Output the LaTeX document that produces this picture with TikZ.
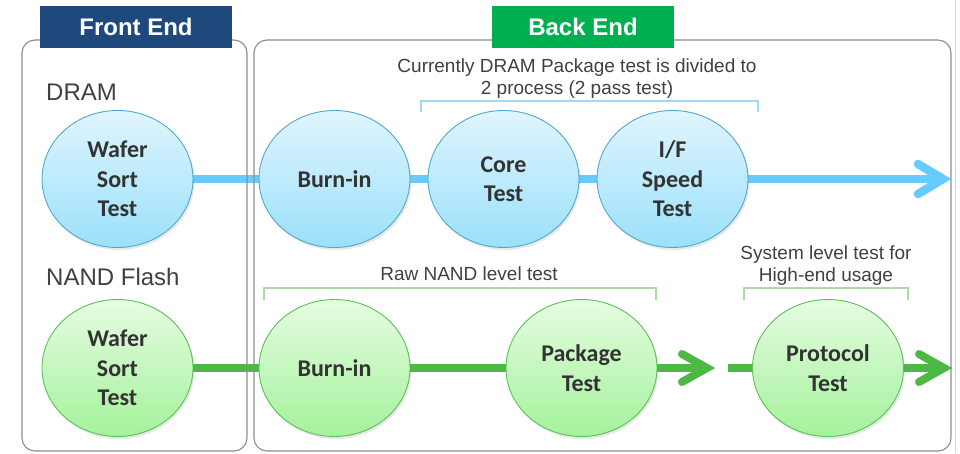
\documentclass[tikz,border=0pt]{standalone}
\usepackage{fontspec}
\setmainfont{Liberation Sans}
\newfontfamily\bubblefont{Carlito}
\usetikzlibrary{shapes.geometric,shadows,backgrounds}
\definecolor{feblue}{HTML}{1F497D}
\definecolor{begreen}{HTML}{00B050}
\definecolor{txtgray}{HTML}{404040}
\definecolor{bubtxt}{HTML}{333333}
\definecolor{panelgray}{HTML}{8C8C8C}
\definecolor{lblue}{HTML}{66CCFF}
\definecolor{lgreen}{HTML}{4CB944}
\definecolor{btop}{HTML}{E0F5FE}
\definecolor{bbot}{HTML}{9BE0FA}
\definecolor{bbord}{HTML}{4FA9CF}
\definecolor{gtop}{HTML}{E6FCE2}
\definecolor{gbot}{HTML}{A4F29B}
\definecolor{gbord}{HTML}{5CBF57}
\definecolor{brblue}{HTML}{A3DAF2}
\definecolor{brgreen}{HTML}{ABDCA4}
\begin{document}
\begin{tikzpicture}[x=1pt,y=-1pt,
  panel/.style={draw=panelgray, line width=1.1pt, rounded corners=13pt},
  titlebox/.style={text=white, font=\bfseries\fontsize{24}{28}\selectfont, minimum width=#1, minimum height=42pt, inner sep=0pt},
  bubble/.style={ellipse, minimum width=151pt, minimum height=137pt, inner sep=0pt, line width=0.9pt, align=center, text=bubtxt,
     font=\bubblefont\bfseries\fontsize{24}{29.5}\selectfont,
     drop shadow={opacity=0.18, shadow xshift=1.5pt, shadow yshift=-2.5pt}},
  bluebub/.style={bubble, draw=bbord, top color=btop, bottom color=bbot},
  greenbub/.style={bubble, draw=gbord, top color=gtop, bottom color=gbot},
  blueline/.style={draw=lblue, line width=8.5pt},
  greenline/.style={draw=lgreen, line width=8pt},
  chev/.style={line cap=round, line join=miter},
  rowlabel/.style={anchor=west, inner sep=0pt, text=txtgray, font=\fontsize{24}{28}\selectfont},
  note/.style={align=center, inner sep=0pt, text=txtgray, font=\fontsize{19}{22}\selectfont},
  bracket/.style={line width=1.2pt}
]
\useasboundingbox (0,0) rectangle (960,453);

% panels
\draw[panel] (22,40) rectangle (247,451);
\draw[panel] (254,40) rectangle (951,451);
\draw[gray!35, line width=1pt] (955.5,0) -- (955.5,453);

% titles
\node[titlebox=192pt, fill=feblue] (fe) at (136,27) {Front End};
\node[titlebox=182pt, fill=begreen] (be) at (583,27) {Back End};

% row labels
\node[rowlabel] (dram) at (46,92) {DRAM};
\node[rowlabel] (nand) at (46,277) {NAND Flash};

% notes and brackets
\node[note] (n1) at (577,79) {Currently DRAM Package test is divided to\\2 process (2 pass test)};
\draw[bracket, draw=brblue] (421,112) -- (421,101) -- (758,101) -- (758,112);
\node[note] (n2) at (469,274) {Raw NAND level test};
\draw[bracket, draw=brgreen] (264,300) -- (264,288) -- (656,288) -- (656,300);
\node[note] (n3) at (826,266) {System level test for\\High-end usage};
\draw[bracket, draw=brgreen] (744,300) -- (744,288) -- (908,288) -- (908,300);

% DRAM bubbles
\node[bluebub] (dw) at (117.5,179) {Wafer\\Sort\\Test};
\node[bluebub] (db) at (334.5,179) {Burn-in};
\node[bluebub] (dc) at (503.5,179) {Core\\Test};
\node[bluebub] (di) at (672.5,179) {I/F\\Speed\\Test};

% NAND bubbles
\node[greenbub] (nw) at (117.5,368) {Wafer\\Sort\\Test};
\node[greenbub] (nb) at (334.5,368) {Burn-in};
\node[greenbub] (np) at (581.5,368) {Package\\Test};
\node[greenbub] (npr) at (828,368) {Protocol\\Test};

\coordinate (dTip) at (943,179);
\coordinate (nTip1) at (707,368);
\coordinate (nGap) at (728,368);
\coordinate (nTip2) at (944,368);

% connectors
\begin{scope}[on background layer]
\draw[blueline] (dw) -- (db);
\draw[blueline] (db) -- (dc);
\draw[blueline] (dc) -- (di);
\draw[blueline] (di) -- (dTip);
\draw[greenline] (nw) -- (nb);
\draw[greenline] (nb) -- (np);
\draw[greenline] (np) -- (nTip1);
\draw[greenline] (nGap) -- (npr);
\draw[greenline] (npr) -- (nTip2);
\end{scope}

% chevron heads
\draw[blueline, chev] (dTip) ++(-25,-15) -- (dTip) -- ++(-25,15);
\draw[greenline, chev] (nTip1) ++(-25,-14) -- (nTip1) -- ++(-25,14);
\draw[greenline, chev] (nTip2) ++(-25,-14) -- (nTip2) -- ++(-25,14);
\end{tikzpicture}
\end{document}
